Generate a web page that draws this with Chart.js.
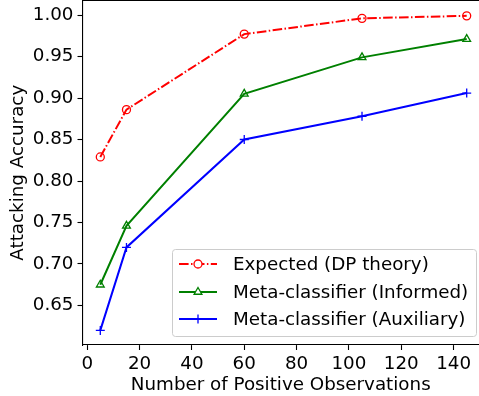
<!DOCTYPE html>
<html>
<head>
<meta charset="utf-8">
<script src="https://cdn.jsdelivr.net/npm/chart.js@4"></script>
<style>
  html, body { margin: 0; padding: 0; background: #fff; overflow: hidden; }
</style>
</head>
<body>
<canvas id="chart" width="479" height="396"></canvas>
<script>
const observations = [5, 15, 60, 105, 145];
const expectedDP = [0.829, 0.886, 0.977, 0.996, 0.999];
const metaInformed = [0.675, 0.746, 0.905, 0.949, 0.971];
const metaAuxiliary = [0.620, 0.720, 0.850, 0.878, 0.906];
const xTicks = [0, 20, 40, 60, 80, 100, 120, 140];
const yTicks = [0.65, 0.70, 0.75, 0.80, 0.85, 0.90, 0.95, 1.00];

const FONT = "DejaVu Sans";
const FSIZE = 18.3;

function toPoints(values) {
    return observations.map((x, i) => ({ x: x, y: values[i] }));
}

// top spine + legend box inside the plot (matplotlib look)
const framePlugin = {
    id: "frame",
    afterDraw(chart) {
        const { ctx, chartArea: a } = chart;
        ctx.save();
        ctx.strokeStyle = "#000";
        ctx.lineWidth = 1.1;
        ctx.beginPath();
        ctx.moveTo(a.left, a.top);
        ctx.lineTo(chart.width, a.top);
        ctx.stroke();

        const bx = 172, by = 249, bw = 304, bh = 87;
        ctx.fillStyle = "rgba(255,255,255,0.8)";
        ctx.strokeStyle = "#cccccc";
        ctx.lineWidth = 1;
        ctx.beginPath();
        ctx.roundRect(bx + 0.5, by + 0.5, bw, bh, 3);
        ctx.fill();
        ctx.stroke();

        const rows = [264, 292, 319];
        ctx.font = FSIZE + "px '" + FONT + "'";
        ctx.textBaseline = "middle";
        chart.data.datasets.forEach((ds, i) => {
            const y = rows[i];
            ctx.strokeStyle = ds.borderColor;
            ctx.lineWidth = ds.borderWidth;
            ctx.setLineDash(ds.borderDash || []);
            ctx.beginPath();
            ctx.moveTo(179, y);
            ctx.lineTo(217, y);
            ctx.stroke();
            ctx.setLineDash([]);
            ctx.lineWidth = ds.pointBorderWidth;
            ctx.fillStyle = "#ffffff";
            Chart.helpers.drawPoint(ctx, {
                pointStyle: ds.pointStyle,
                radius: ds.pointRadius,
                rotation: 0,
                borderWidth: ds.pointBorderWidth
            }, 198, y);
            ctx.fillStyle = "#000";
            ctx.fillText(ds.label, 233, y + 1);
        });
        ctx.restore();
    }
};

function lineSet(label, values, color, pointStyle, radius, dash) {
    return {
        label: label,
        data: toPoints(values),
        borderColor: color,
        backgroundColor: "rgba(0,0,0,0)",
        borderWidth: 2,
        borderDash: dash,
        pointStyle: pointStyle,
        pointRadius: radius,
        pointBorderWidth: 1.3,
        pointBorderColor: color,
        pointBackgroundColor: "rgba(0,0,0,0)",
    };
}

const axisGrid = {
    drawOnChartArea: false,
    drawTicks: true,
    tickLength: 5,
    tickWidth: 1.1,
    color: "#000",
};

new Chart(document.getElementById("chart"), {
    type: "line",
    data: {
        datasets: [
            lineSet("Expected (DP theory)", expectedDP, "#ff0000", "circle", 4, [9.6, 2.4, 1.5, 2.4]),
            lineSet("Meta-classifier (Informed)", metaInformed, "#008000", "triangle", 4.5, []),
            lineSet("Meta-classifier (Auxiliary)", metaAuxiliary, "#0000ff", "cross", 4.5, []),
        ],
    },
    options: {
        responsive: false,
        animation: false,
        layout: {
            autoPadding: false,
            padding: { top: 0.5, right: 0, left: 0, bottom: 0 },
        },
        plugins: {
            legend: { display: false },
            tooltip: { enabled: false },
        },
        scales: {
            x: {
                type: "linear",
                min: -1.8,
                max: 149.7,
                afterBuildTicks: (scale) => {
                    scale.ticks = xTicks.map((v) => ({ value: v }));
                },
                afterFit: (scale) => {
                    scale.height = 51;
                    scale.paddingLeft = 0;
                    scale.paddingRight = 0;
                },
                grid: axisGrid,
                border: { display: true, color: "#000", width: 1.1 },
                ticks: {
                    color: "#000",
                    padding: 3,
                    maxRotation: 0,
                    font: { family: FONT, size: FSIZE },
                    callback: (v) => String(v),
                },
                title: {
                    display: true,
                    text: "Number of Positive Observations",
                    color: "#000",
                    font: { family: FONT, size: FSIZE },
                    padding: { top: 0, bottom: 0 },
                },
            },
            y: {
                type: "linear",
                min: 0.6024,
                max: 1.0175,
                afterBuildTicks: (scale) => {
                    scale.ticks = yTicks.map((v) => ({ value: v }));
                },
                afterFit: (scale) => {
                    scale.width = 82.5;
                    scale.paddingTop = 0;
                    scale.paddingBottom = 0;
                },
                grid: axisGrid,
                border: { display: true, color: "#000", width: 1.1 },
                ticks: {
                    color: "#000",
                    padding: 4,
                    font: { family: FONT, size: FSIZE },
                    callback: (v) => Number(v).toFixed(2),
                },
                title: {
                    display: true,
                    text: "Attacking Accuracy",
                    color: "#000",
                    font: { family: FONT, size: FSIZE },
                    padding: { top: 7, bottom: 0 },
                },
            },
        },
    },
    plugins: [framePlugin],
});
</script>
</body>
</html>
